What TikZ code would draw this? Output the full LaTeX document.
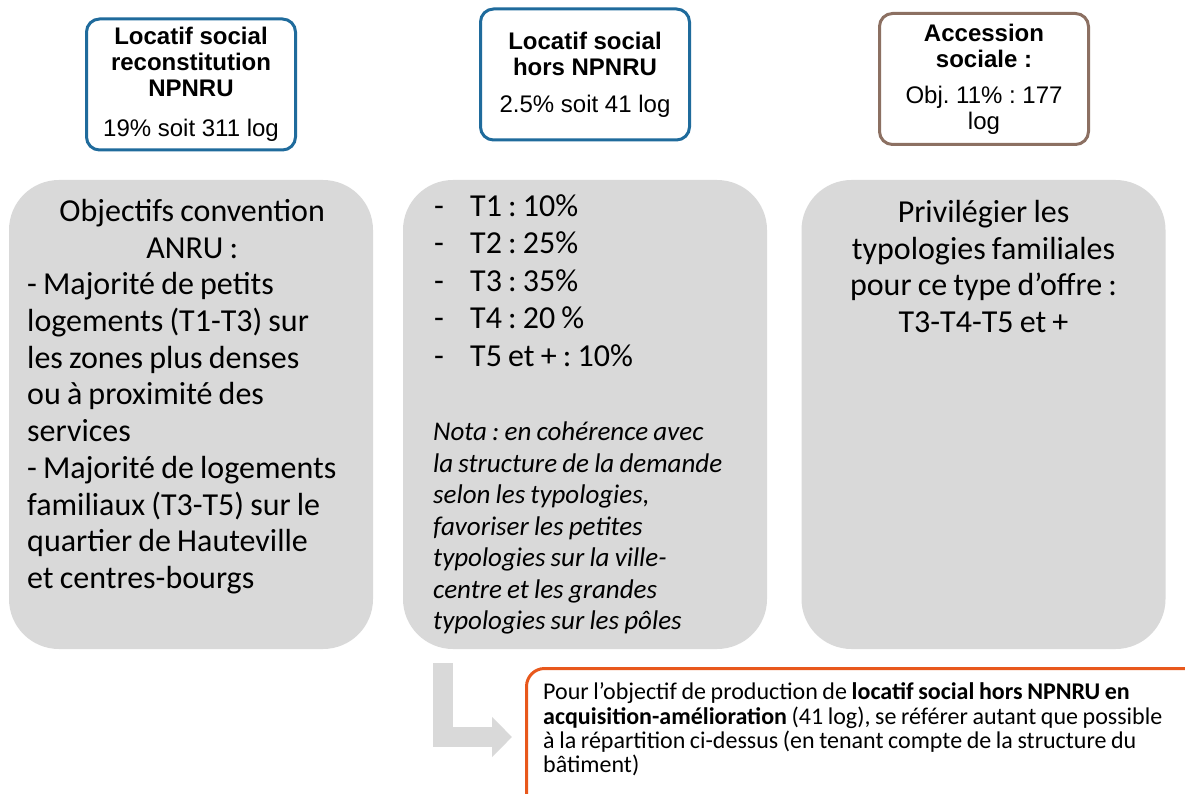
\documentclass[tikz,border=0pt]{standalone}
\usepackage{fontspec}
\setmainfont[WordSpace=0.85]{Carlito}
\newfontfamily\arial{Liberation Sans}
\usetikzlibrary{arrows.meta}
\definecolor{cadreBleu}{HTML}{1F6B9C}
\definecolor{cadreBrun}{HTML}{8C7062}
\definecolor{cadreOrange}{HTML}{E8581C}
\definecolor{fondGris}{HTML}{D9D9D9}
\setlength{\parindent}{0pt}
\frenchspacing
\newcommand{\puce}{\makebox[36pt][l]{-}}
\newcommand{\centre}[1]{\makebox[330pt][c]{#1}}

\begin{document}
\begin{tikzpicture}[x=1pt,y=-1pt,
	entete/.style={draw=#1,line width=3pt,fill=white,rounded corners=13pt,minimum width=209pt,minimum height=131pt,align=center,font=\arial\fontsize{24}{26}\selectfont},
	bloc/.style={fill=fondGris,rounded corners=50pt,minimum width=364pt,minimum height=469pt},
	texte/.style={inner sep=0pt,font=\fontsize{32}{36.7}\selectfont}]
	\clip (0,0) rectangle (1185,794);
	\fill[white] (0,0) rectangle (1185,794);

	\node[entete=cadreBleu] (loc1) at (191,84.5) {\textbf{Locatif social}\\\textbf{reconstitution}\\\textbf{NPNRU}\\[14pt]19\% soit 311 log};
	\node[entete=cadreBleu] (loc2) at (585,74.5) {\textbf{Locatif social}\\\textbf{hors NPNRU}\\[11pt]2.5\% soit 41 log};
	\node[entete=cadreBrun] (acc) at (984,79) {\textbf{Accession}\\\textbf{sociale :}\\[10pt]Obj. 11\% : 177\\log};

	\node[bloc] (anru) at (191,414.5) {};
	\node[bloc] (typo) at (585,414.5) {};
	\node[bloc] (fam) at (983.5,414.5) {};

	\node[texte,anchor=north west,align=left] (anrutext) at (27,199) {\centre{Objectifs convention}\\\centre{ANRU :}\\- Majorité de petits\\logements (T1-T3) sur\\les zones plus denses\\ou à proximité des\\services\\- Majorité de logements\\familiaux (T3-T5) sur le\\quartier de Hauteville\\et centres-bourgs};
	\node[texte,anchor=north west,align=left,font=\fontsize{32}{37.5}\selectfont] (typolist) at (434,194) {\puce T1 : 10\%\\\puce T2 : 25\%\\\puce T3 : 35\%\\\puce T4 : 20 \%\\\puce T5 et + : 10\%};
	\node[texte,anchor=north west,align=left,font=\itshape\fontsize{27}{31.5}\selectfont] (nota) at (433,422) {Nota : en cohérence avec\\la structure de la demande\\selon les typologies,\\favoriser les petites\\typologies sur la ville-\\centre et les grandes\\typologies sur les pôles};
	\node[texte,anchor=north,align=center] (famtext) at (983.5,200) {Privilégier les\\typologies familiales\\pour ce type d’offre :\\T3-T4-T5 et +};

	\coordinate (coude) at ([xshift=-142pt,yshift=-14pt]typo.south);
	\coordinate (pointe) at (512,737);
	\draw[fondGris,line width=20pt,-{Triangle[width=39pt,length=20pt]}] (coude) |- (pointe);

	\node[draw=cadreOrange,line width=3pt,fill=white,rounded corners=18pt,anchor=north west,minimum width=800pt,minimum height=200pt] (acq) at (525,667) {};
	\node[texte,anchor=north west,align=left,font=\fontsize{24}{24.4}\selectfont] (acqtext) at (543,682.5) {Pour l’objectif de production de \textbf{locatif social hors NPNRU en}\\\textbf{acquisition-amélioration} (41 log), se référer autant que possible\\à la répartition ci-dessus (en tenant compte de la structure du\\bâtiment)};
\end{tikzpicture}
\end{document}
